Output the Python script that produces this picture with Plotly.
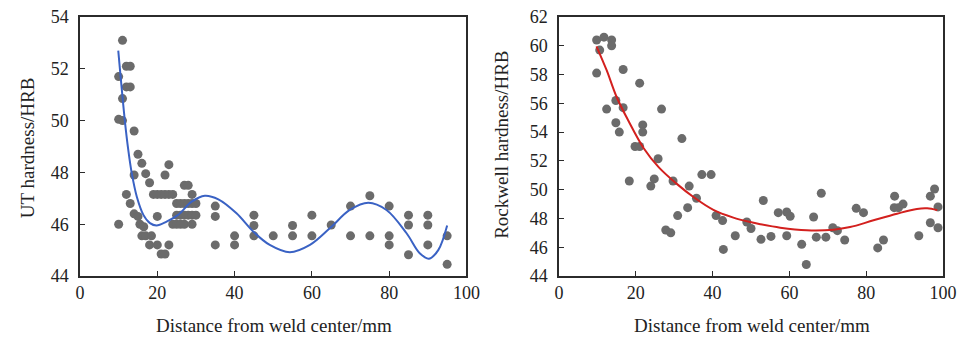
import plotly.graph_objects as go

# ---------------- Left panel: UT hardness ----------------
ut_x = [11, 12, 13, 10, 12, 13, 11, 10, 11, 14,
        15, 16, 23, 14, 17, 22, 18, 27, 28, 12,
        19, 20, 21, 22, 23, 24, 29, 13,
        25, 26, 27, 28, 29, 30, 35,
        14, 15, 20, 25, 26, 27, 28, 29, 30, 35,
        10, 15.5, 16.5, 24, 25, 26, 27, 29,
        16, 17, 18.5, 40, 18, 20, 23, 35, 40, 21, 22,
        45, 45, 45, 50, 55, 55, 60, 60, 65, 70, 70, 75, 75,
        80, 80, 80, 85, 85, 85, 90, 90, 90, 95, 95]
ut_y = [53.1, 52.1, 52.1, 51.7, 51.3, 51.3, 50.85, 50.05, 50.0, 49.6,
        48.7, 48.35, 48.3, 47.9, 47.95, 47.9, 47.6, 47.5, 47.5, 47.15,
        47.15, 47.15, 47.15, 47.15, 47.15, 47.15, 47.15, 46.8,
        46.8, 46.8, 46.8, 46.8, 46.8, 46.8, 46.7,
        46.4, 46.3, 46.3, 46.35, 46.35, 46.35, 46.35, 46.35, 46.35, 46.3,
        46.0, 46.0, 45.9, 46.0, 46.0, 46.0, 46.0, 46.0,
        45.55, 45.55, 45.55, 45.55, 45.2, 45.2, 45.2, 45.2, 45.2, 44.85, 44.85,
        46.35, 45.95, 45.55, 45.55, 45.95, 45.55, 46.35, 45.55, 45.97, 46.7, 45.55, 47.1, 45.55,
        46.7, 45.55, 45.2, 46.35, 45.97, 44.82, 46.35, 45.97, 45.2, 45.55, 44.45]

ut_fit_x = [9.9, 11.6, 12.5, 13.4, 14.7, 16.4, 18.1, 19.8, 22.4, 25.4,
            28.9, 32.3, 35.8, 40.5, 44.8, 49.1, 54.3, 59.5, 64.7, 69.8,
            74.6, 79.3, 84.5, 87.9, 90.3, 92.7, 95.0]
ut_fit_y = [52.7, 50.0, 48.86, 47.96, 47.06, 46.36, 46.04, 45.95, 46.1, 46.36,
            46.87, 47.1, 46.96, 46.42, 45.72, 45.2, 44.92, 45.2, 45.85, 46.55,
            46.83, 46.55, 45.65, 44.88, 44.67, 45.0, 45.95]

# ---------------- Right panel: Rockwell hardness ----------------
rw_x = [9.8, 11.7, 13.7, 10.6, 13.7, 9.8, 16.7, 21.0, 14.8, 12.4,
        16.7, 26.7, 14.8, 21.8, 15.7, 21.8, 32.0, 19.8, 21.0,
        25.8, 18.3, 24.8, 23.9, 29.7, 37.2, 39.6, 33.9, 35.8, 33.5, 30.9,
        40.9, 42.6, 27.8, 29.1, 45.9, 42.8, 48.9, 50.0,
        53.2, 52.6, 55.2, 57.1, 59.3, 60.2, 59.3, 63.2, 64.4, 66.3, 68.3,
        67.0, 69.5, 71.3, 72.5, 74.4, 77.4, 79.3, 83.0, 84.5,
        87.4, 87.3, 88.4, 89.6, 93.7, 96.7, 97.8, 96.7, 98.7, 98.7]
rw_y = [60.4, 60.6, 60.4, 59.7, 60.0, 58.1, 58.35, 57.4, 56.2, 55.6,
        55.7, 55.6, 54.65, 54.5, 54.0, 54.0, 53.55, 53.0, 53.0,
        52.15, 50.6, 50.75, 50.25, 50.6, 51.05, 51.05, 50.25, 49.4, 48.75, 48.2,
        48.2, 47.85, 47.2, 47.0, 46.8, 45.85, 47.75, 47.3,
        49.25, 46.55, 46.75, 48.4, 48.45, 48.15, 46.8, 46.2, 44.8, 48.1, 49.75,
        46.7, 46.7, 47.35, 47.15, 46.5, 48.7, 48.4, 45.95, 46.5,
        49.55, 48.75, 48.75, 49.0, 46.8, 49.55, 50.05, 47.7, 48.8, 47.35]

rw_fit_x = [9.75, 12.4, 15.0, 18.0, 22.0, 26.0, 30.6, 35.0, 40.2,
            45.4, 49.75, 52.4, 57.6, 64.5, 71.5, 75.8, 81.9, 88.0, 93.2,
            95.9, 98.5]
rw_fit_y = [59.96, 58.3, 56.44, 54.82, 52.9, 51.55, 50.42, 49.49, 48.6,
            48.06, 47.75, 47.6, 47.36, 47.18, 47.22, 47.4, 47.87, 48.33, 48.66,
            48.7, 48.57]

x_ticks = [0, 20, 40, 60, 80, 100]
ut_ticks = [44, 46, 48, 50, 52, 54]
rw_ticks = [44, 46, 48, 50, 52, 54, 56, 58, 60, 62]

FONT = "Liberation Serif"
MARK = "#6b6b6b"
AX = "#2b2b2b"

# plot-area geometry in pixels
L, R, T, B = 80.0, 16.5, 16.5, 61.7
W = 960 - L - R
H = 338 - T - B


def px(x):
    return (x - L) / W


def py(y):
    return (338 - B - y) / H


fig = go.Figure()
fig.add_trace(go.Scatter(x=ut_x, y=ut_y, mode="markers",
                         marker=dict(color=MARK, size=9), xaxis="x", yaxis="y",
                         showlegend=False))
fig.add_trace(go.Scatter(x=ut_fit_x, y=ut_fit_y, mode="lines",
                         line=dict(color="#3a62c4", width=2, shape="spline", smoothing=1.0),
                         xaxis="x", yaxis="y", showlegend=False))
fig.add_trace(go.Scatter(x=rw_x, y=rw_y, mode="markers",
                         marker=dict(color=MARK, size=9), xaxis="x2", yaxis="y2",
                         showlegend=False))
fig.add_trace(go.Scatter(x=rw_fit_x, y=rw_fit_y, mode="lines",
                         line=dict(color="#d3201e", width=2, shape="spline", smoothing=1.0),
                         xaxis="x2", yaxis="y2", showlegend=False))

common = dict(showline=True, linecolor=AX, linewidth=1.5, mirror=True,
              ticks="inside", ticklen=5, tickcolor=AX, tickwidth=1.2,
              showgrid=False, zeroline=False, automargin=False,
              tickfont=dict(family=FONT, size=18, color="#222"))

fig.update_layout(
    width=960, height=338,
    margin=dict(l=L, r=R, t=T, b=B, pad=0, autoexpand=False),
    paper_bgcolor="white", plot_bgcolor="white",
    font=dict(family=FONT),
    xaxis=dict(domain=[0, px(466.7)], range=[0, 100], tickvals=x_ticks,
               anchor="y", ticklabelstandoff=0, **common),
    yaxis=dict(domain=[0, 1], range=[44, 54], tickvals=ut_ticks, anchor="x",
               ticklabelstandoff=6, **common),
    xaxis2=dict(domain=[px(559.3), 1], range=[0, 100], tickvals=x_ticks,
                anchor="y2", ticklabelstandoff=0, **common),
    yaxis2=dict(domain=[0, 1], range=[44, 62], tickvals=rw_ticks, anchor="x2",
                ticklabelstandoff=6, **common),
)

tfont = dict(family=FONT, size=19, color="#222")
fig.add_annotation(text="Distance from weld center/mm", x=px(274), y=py(326),
                   xref="paper", yref="paper", showarrow=False, font=tfont,
                   xanchor="center", yanchor="middle")
fig.add_annotation(text="Distance from weld center/mm", x=px(752), y=py(326),
                   xref="paper", yref="paper", showarrow=False, font=tfont,
                   xanchor="center", yanchor="middle")
fig.add_annotation(text="UT hardness/HRB", x=px(27), y=py(148),
                   xref="paper", yref="paper", showarrow=False, font=tfont,
                   textangle=-90, xanchor="center", yanchor="middle")
fig.add_annotation(text="Rockwell hardness/HRB", x=px(501), y=py(145),
                   xref="paper", yref="paper", showarrow=False, font=tfont,
                   textangle=-90, xanchor="center", yanchor="middle")

fig.write_html("out.html",
               config={"displayModeBar": False},
               post_script="document.body.style.margin='0';"
                           "document.body.style.overflow='hidden';")
